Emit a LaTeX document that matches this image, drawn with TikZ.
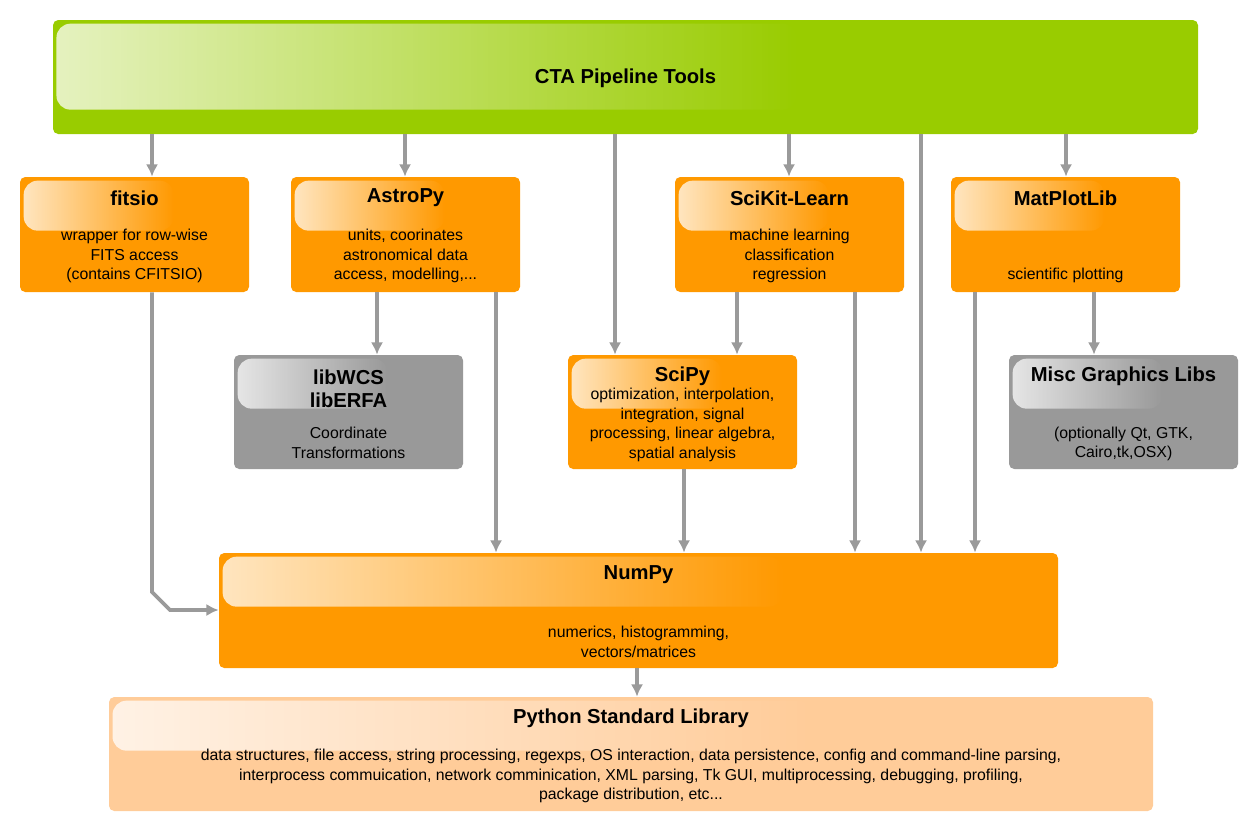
\documentclass[tikz,border=0pt]{standalone}
\usepackage{fontspec}
\setmainfont{Liberation Sans}
\usetikzlibrary{fadings,arrows.meta}
\definecolor{ctagreen}{HTML}{99CC00}
\definecolor{pkgorange}{HTML}{FF9900}
\definecolor{libgray}{HTML}{999999}
\definecolor{stdpeach}{HTML}{FFCC99}
\definecolor{arrgray}{HTML}{9A9A9A}
\newcommand{\gloss}[3]{% node, width, height
  \fill[white, fill opacity=0.75, path fading=east, rounded corners=8]
    ([shift={(4,4)}]#1.north west) rectangle ++(#2,#3);}
\begin{document}
\begin{tikzpicture}[x=0.02cm, y=-0.02cm,
    box/.style={rectangle, rounded corners=3, inner sep=0pt},
    title/.style={font=\bfseries\fontsize{11.5}{13}\selectfont, align=center},
    body/.style={font=\fontsize{9}{11.2}\selectfont, align=center},
    arr/.style={draw=arrgray, line width=2.2pt, -{Latex[length=7pt,width=7pt]}},
]
\useasboundingbox (0,0) rectangle (1260,833);

% boxes
\node[box, fill=ctagreen, minimum width=1145*0.02cm, minimum height=114*0.02cm] (cta) at (625.5,77) {};
\node[box, fill=pkgorange, minimum width=229*0.02cm, minimum height=115*0.02cm] (fitsio) at (134.5,234.5) {};
\node[box, fill=pkgorange, minimum width=229*0.02cm, minimum height=115*0.02cm] (astropy) at (405.5,234.5) {};
\node[box, fill=pkgorange, minimum width=229*0.02cm, minimum height=115*0.02cm] (sklearn) at (789.5,234.5) {};
\node[box, fill=pkgorange, minimum width=229*0.02cm, minimum height=115*0.02cm] (mpl) at (1065.5,234.5) {};
\node[box, fill=libgray, minimum width=229*0.02cm, minimum height=114*0.02cm] (wcs) at (348.5,412) {};
\node[box, fill=pkgorange, minimum width=229*0.02cm, minimum height=114*0.02cm] (scipy) at (682.5,412) {};
\node[box, fill=libgray, minimum width=229*0.02cm, minimum height=114*0.02cm] (misc) at (1123.5,412) {};
\node[box, fill=pkgorange, minimum width=839*0.02cm, minimum height=115*0.02cm] (numpy) at (638.5,610.5) {};
\node[box, fill=stdpeach, minimum width=1044*0.02cm, minimum height=114*0.02cm] (stdlib) at (631,754) {};

% highlights
\gloss{cta}{740}{86}
\gloss{fitsio}{150}{50}
\gloss{astropy}{150}{50}
\gloss{sklearn}{150}{50}
\gloss{mpl}{150}{50}
\gloss{wcs}{150}{50}
\gloss{scipy}{150}{50}
\gloss{misc}{150}{50}
\gloss{numpy}{560}{50}
\gloss{stdlib}{700}{50}

% texts
\node[title] at (625.5,78) {CTA Pipeline Tools};
\node[title] at (134.5,198) {fitsio};
\node[body] at (134.5,256) {wrapper for row-wise\\FITS access\\(contains CFITSIO)};
\node[title] at (405.5,198) {AstroPy};
\node[body] at (405.5,256) {units, coorinates\\astronomical data\\access, modelling,...};
\node[title] at (789.5,198) {SciKit-Learn};
\node[body] at (789.5,256) {machine learning\\classification\\regression};
\node[title] at (1065.5,198) {MatPlotLib};
\node[body] at (1065.5,275) {scientific plotting};
\node[title] at (348.5,389) {libWCS\\libERFA};
\node[body] at (348.5,443) {Coordinate\\Transformations};
\node[title] at (682.5,376) {SciPy};
\node[body] at (682.5,425) {optimization, interpolation,\\integration, signal\\processing, linear algebra,\\spatial analysis};
\node[title] at (1123.5,376) {Misc Graphics Libs};
\node[body] at (1123.5,444) {(optionally Qt, GTK,\\Cairo,tk,OSX)};
\node[title] at (638.5,575) {NumPy};
\node[body] at (638.5,642) {numerics, histogramming,\\vectors/matrices};
\node[title] at (631,718) {Python Standard Library};
\node[body] at (631,776) {data structures, file access, string processing, regexps, OS interaction, data persistence, config and command-line parsing,\\interprocess commuication, network comminication, XML parsing, Tk GUI, multiprocessing, debugging, profiling,\\package distribution, etc...};

% connectors
\draw[arr] (cta.south -| 152,0) -- (fitsio.north -| 152,0);
\draw[arr] (cta.south -| 405,0) -- (astropy.north -| 405,0);
\draw[arr] (cta.south -| 615,0) -- (scipy.north -| 615,0);
\draw[arr] (cta.south -| 789,0) -- (sklearn.north -| 789,0);
\draw[arr] (cta.south -| 921,0) -- (numpy.north -| 921,0);
\draw[arr] (cta.south -| 1066,0) -- (mpl.north -| 1066,0);
\draw[arr] (astropy.south -| 377,0) -- (wcs.north -| 377,0);
\draw[arr] (astropy.south -| 496,0) -- (numpy.north -| 496,0);
\draw[arr] (sklearn.south -| 737,0) -- (scipy.north -| 737,0);
\draw[arr] (sklearn.south -| 855,0) -- (numpy.north -| 855,0);
\draw[arr] (scipy.south -| 684,0) -- (numpy.north -| 684,0);
\draw[arr] (mpl.south -| 1094,0) -- (misc.north -| 1094,0);
\draw[arr] (mpl.south -| 975,0) -- (numpy.north -| 975,0);
\draw[arr] (fitsio.south -| 152,0) -- (152,592) -- (170,610) -- (numpy.west |- 0,610);
\draw[arr] (numpy.south -| 637,0) -- (stdlib.north -| 637,0);
\end{tikzpicture}
\end{document}
